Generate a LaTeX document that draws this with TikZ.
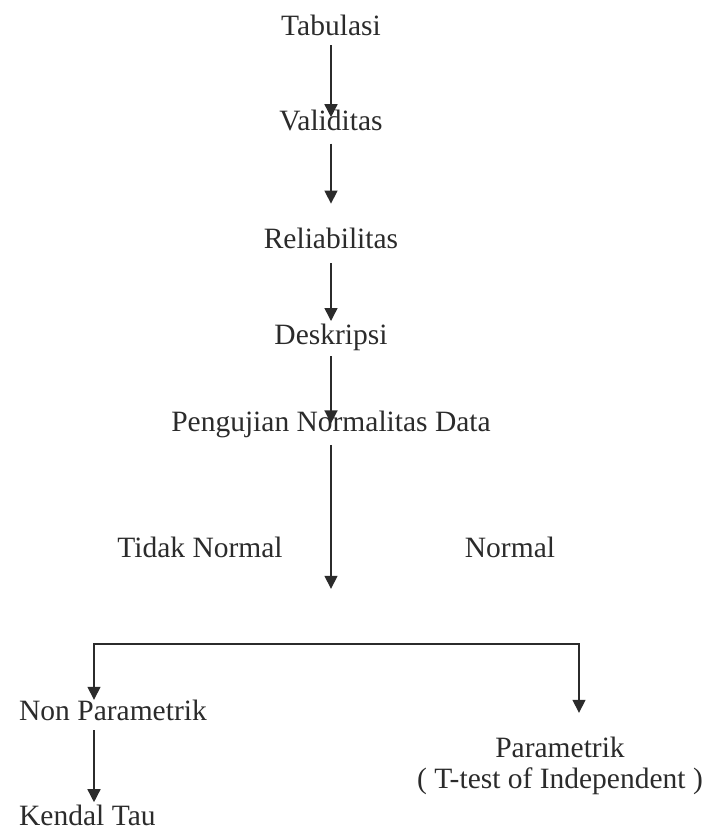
\documentclass[tikz,border=0pt]{standalone}
\usepackage{fontspec}
\setmainfont{Liberation Serif}
\usetikzlibrary{positioning,arrows.meta}
\definecolor{ink}{gray}{0.17}

\begin{document}
\begin{tikzpicture}[x=1pt,y=-1pt,
    lbl/.style={inner sep=0pt,text height=20pt,text depth=10pt,text=ink,
      font=\fontsize{29.5}{35}\selectfont},
    arr/.style={draw=ink,line width=1.5pt,-{Triangle[length=13pt,width=13pt]}}]
    \useasboundingbox (0,0) rectangle (712,831);
      \node[lbl,anchor=base] (t) at (331,35) {Tabulasi};
      \node[lbl,below=65pt of t] (v) {Validitas};
      \node[lbl,below=88pt of v] (r) {Reliabilitas};
      \node[lbl,below=65pt of r] (d) {Deskripsi};
      \node[lbl,below=57pt of d] (u) {Pengujian Normalitas Data};
      \coordinate[below=147pt of u] (f);
      \node[lbl,anchor=base] (tn) at (200,557) {Tidak Normal};
      \node[lbl,anchor=base] (n) at (510,557) {Normal};
      \coordinate (bl) at (94,644);
      \coordinate (br) at (579,644);
      \node[lbl,anchor=base] (np) at (113,720) {Non Parametrik};
      \node[lbl,below=75pt of np.south west,anchor=north west] (k) {Kendal Tau};
      \node[lbl,anchor=base] (p) at (560,757) {Parametrik};
      \node[lbl,below=1pt of p] (tt) {( T-test of Independent )};
      \draw[arr,shorten >=-7pt] (t) -- (v);
      \draw[arr,shorten <=3pt,shorten >=25pt] (v) -- (r);
      \draw[arr,shorten <=4pt,shorten >=3pt] (r) -- (d);
      \draw[arr,shorten <=2pt,shorten >=-12pt] (d) -- (u);
      \draw[arr,shorten <=3pt] (u) -- (f);
      \draw[ink,line width=1.5pt,line cap=rect] (bl) -- (br);
      \draw[arr] (bl) -- (bl |- np.north);
      \draw[arr,shorten >=3pt] (bl |- np.south) -- (bl |- k.north);
      \draw[arr,shorten >=24pt] (br) -- (br |- p.north);
  \end{tikzpicture}
\end{document}
